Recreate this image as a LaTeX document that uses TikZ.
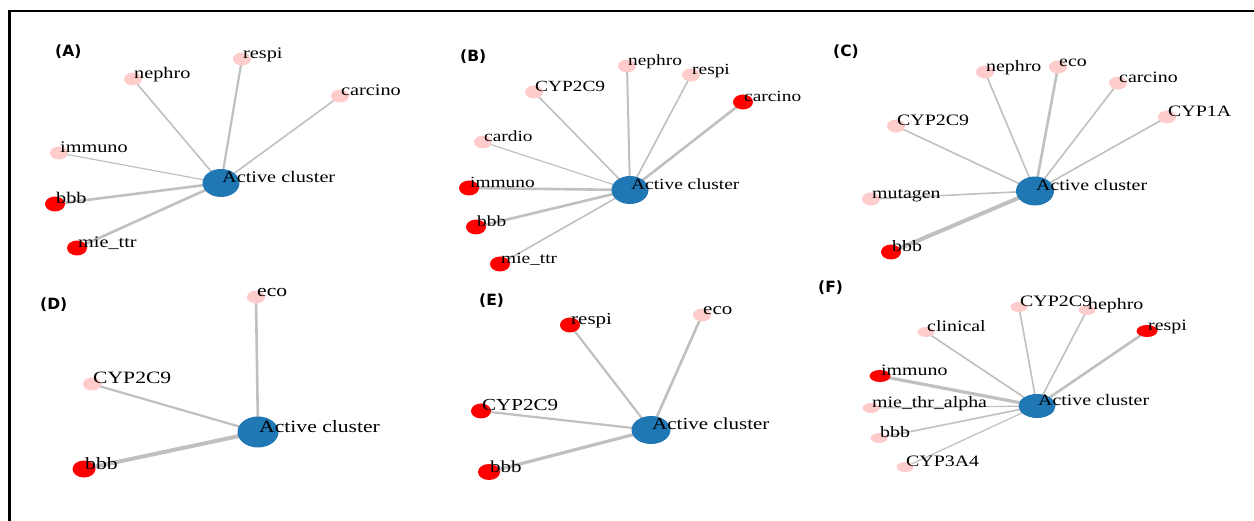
\documentclass[tikz,border=0pt]{standalone}
\usepackage{fontspec}
\setmainfont{Liberation Serif}
\newfontfamily\panelsans{DejaVu Sans}
\usepackage{graphicx}
\usetikzlibrary{shapes.geometric}
\definecolor{hubblue}{HTML}{1F77B4}
\definecolor{hired}{HTML}{FF0000}
\definecolor{lopink}{HTML}{FFCCCC}
\definecolor{edgegray}{HTML}{C0C0C0}
\pgfdeclarelayer{background}
\pgfdeclarelayer{foreground}
\pgfsetlayers{background,main,foreground}
\newcommand\stretchlbl[1]{\scalebox{1.25}[1]{#1}}
\def\labsize{16}
\tikzset{
  hub/.style={ellipse, fill=hubblue, inner sep=0pt, minimum width=37pt, minimum height=28pt},
  lo/.style={ellipse, fill=lopink, inner sep=0pt, minimum width=18pt, minimum height=13pt},
  hi/.style={ellipse, fill=hired, inner sep=0pt, minimum width=20pt, minimum height=15pt},
  lab/.style={anchor=base west, inner sep=0pt, xshift=1pt, font=\fontsize{\labsize}{\labsize}\selectfont},
  edgeline/.style={draw=edgegray},
  plab/.style={anchor=west, inner sep=0pt, font=\panelsans\bfseries\fontsize{15.5}{16}\selectfont},
}
% #1 name, #2 style, #3 position, #4 label, #5 hub, #6 edge width
\newcommand\mkleaf[6]{%
  \node[#2] (#1) at (#3) {};
  \begin{pgfonlayer}{foreground}\node[lab] (#1t) at (#1.center) {\stretchlbl{#4}};\end{pgfonlayer}
  \begin{pgfonlayer}{background}\draw[edgeline, line width=#6pt] (#5.center) -- (#1.center);\end{pgfonlayer}
}
\newcommand\mkhub[3]{%
  \node[hub,#3] (#1) at (#2) {};
  \begin{pgfonlayer}{foreground}\node[lab] (#1t) at (#1.center) {\stretchlbl{Active cluster}};\end{pgfonlayer}
}
\begin{document}
\begin{tikzpicture}[x=1pt,y=-1pt]
\useasboundingbox (0,0) rectangle (1254,521);
\draw[line width=2.5pt] (9.5,521) -- (9.5,11) -- (1254,11);

% ---------- (A)
\def\labsize{16.2}
\node[plab] (pA) at (55,52) {(A)};
\mkhub{hA}{221,183}{}
\mkleaf{aNe}{lo}{133,79}{nephro}{hA}{1.6}
\mkleaf{aRe}{lo}{242,59}{respi}{hA}{2.2}
\mkleaf{aCa}{lo}{340,96}{carcino}{hA}{1.6}
\mkleaf{aIm}{lo}{59,153}{immuno}{hA}{1.2}
\mkleaf{aBb}{hi}{55,204}{bbb}{hA}{2.6}
\mkleaf{aMi}{hi}{77,248}{mie\_ttr}{hA}{2.6}

% ---------- (B)
\def\labsize{15.5}
\node[plab] (pB) at (460,57) {(B)};
\mkhub{hB}{630,190}{}
\mkleaf{bNe}{lo}{627,66}{nephro}{hB}{2}
\mkleaf{bRe}{lo}{691,75}{respi}{hB}{1.6}
\mkleaf{bCy}{lo}{534,92}{CYP2C9}{hB}{1.6}
\mkleaf{bCa}{hi}{743,102}{carcino}{hB}{2.6}
\mkleaf{bCd}{lo}{483,142}{cardio}{hB}{1.2}
\mkleaf{bIm}{hi}{469,188}{immuno}{hB}{2.6}
\mkleaf{bBb}{hi}{476,227}{bbb}{hB}{2.6}
\mkleaf{bMi}{hi}{500,264}{mie\_ttr}{hB}{1.6}

% ---------- (C)
\def\labsize{15.9}
\node[plab] (pC) at (833,52) {(C)};
\mkhub{hC}{1035,191}{minimum width=38pt, minimum height=29pt}
\mkleaf{cNe}{lo}{985,72}{nephro}{hC}{1.6}
\mkleaf{cEc}{lo}{1058,67}{eco}{hC}{2.6}
\mkleaf{cCa}{lo}{1118,83}{carcino}{hC}{1.6}
\mkleaf{cC1}{lo}{1167,117}{CYP1A}{hC}{1.6}
\mkleaf{cCy}{lo}{896,126}{CYP2C9}{hC}{1.6}
\mkleaf{cMu}{lo}{871,199}{mutagen}{hC}{1.6}
\mkleaf{cBb}{hi}{891,252}{bbb}{hC}{4}

% ---------- (D)
\def\labsize{17.3}
\node[plab] (pD) at (40,305) {(D)};
\mkhub{hD}{258,432}{minimum width=41pt, minimum height=31pt}
\mkleaf{dEc}{lo}{256,297}{eco}{hD}{2.6}
\mkleaf{dCy}{lo}{92,384}{CYP2C9}{hD}{2.2}
\mkleaf{dBb}{hi,minimum width=23pt,minimum height=17pt}{84,469}{bbb}{hD}{4}

% ---------- (E)
\def\labsize{16.8}
\node[plab] (pE) at (479,301) {(E)};
\mkhub{hE}{651,430}{minimum width=39pt, minimum height=28pt}
\mkleaf{eRe}{hi}{570,325}{respi}{hE}{2.2}
\mkleaf{eEc}{lo}{702,315}{eco}{hE}{2.6}
\mkleaf{eCy}{hi}{481,411}{CYP2C9}{hE}{2.2}
\mkleaf{eBb}{hi,minimum width=22pt,minimum height=16pt}{489,472}{bbb}{hE}{3.2}

% ---------- (F)
\def\labsize{15.9}
\node[plab] (pF) at (818,288) {(F)};
\mkhub{hF}{1037,406}{minimum width=37pt, minimum height=24pt}
\mkleaf{fCy}{lo,minimum width=17pt,minimum height=10pt}{1019,307}{CYP2C9}{hF}{1.6}
\mkleaf{fNe}{lo,minimum width=17pt,minimum height=10pt}{1087,310}{nephro}{hF}{1.6}
\mkleaf{fRe}{hi,minimum width=21pt,minimum height=12pt}{1147,331}{respi}{hF}{2.6}
\mkleaf{fCl}{lo,minimum width=17pt,minimum height=10pt}{926,332}{clinical}{hF}{1.6}
\mkleaf{fIm}{hi,minimum width=21pt,minimum height=12pt}{880,376}{immuno}{hF}{3.2}
\mkleaf{fMi}{lo,minimum width=17pt,minimum height=10pt}{871,408}{mie\_thr\_alpha}{hF}{1.2}
\mkleaf{fBb}{lo,minimum width=17pt,minimum height=10pt}{879,438}{bbb}{hF}{1.6}
\mkleaf{fC3}{lo,minimum width=17pt,minimum height=10pt}{905,467}{CYP3A4}{hF}{1.2}
\end{tikzpicture}
\end{document}
